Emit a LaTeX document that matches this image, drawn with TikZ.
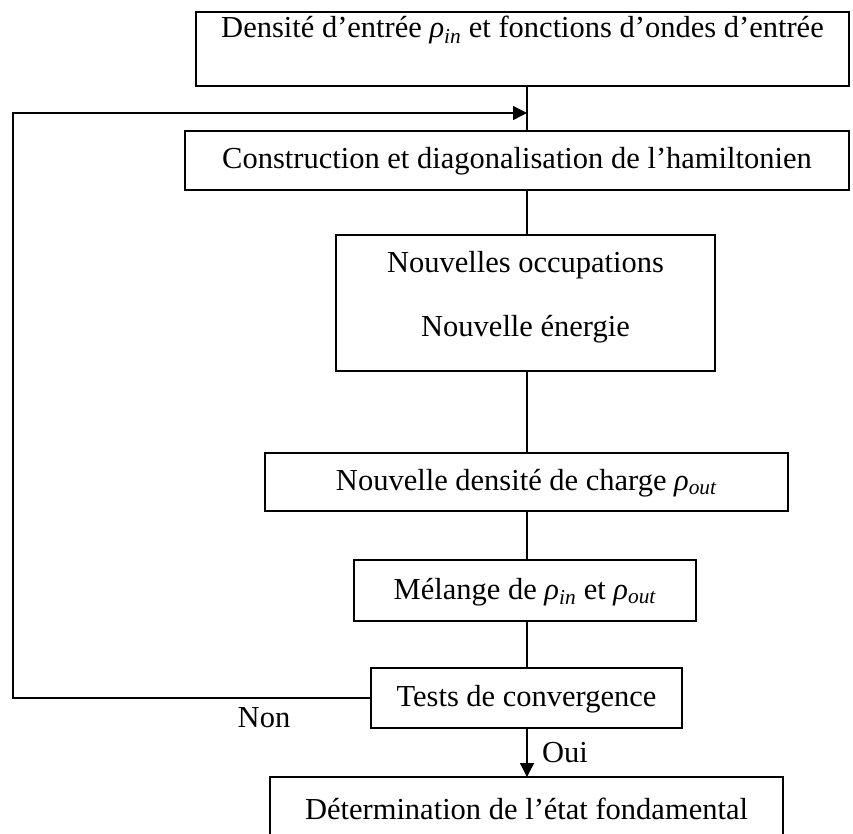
\documentclass[tikz,border=0pt]{standalone}
\usepackage{fontspec}
\setmainfont{Liberation Serif}
\usetikzlibrary{arrows.meta}
\newcommand{\rhoin}{\textit{ρ}\textsubscript{\textit{in}}}
\newcommand{\rhoout}{\textit{ρ}\textsubscript{\textit{out}}}
\begin{document}
\begin{tikzpicture}[x=1pt,y=-1pt,
  box/.style={draw, line width=1.5pt, inner sep=0pt, outer sep=0pt},
  txt/.style={inner sep=0pt, font=\fontsize{30.5}{36}\selectfont},
  conn/.style={line width=1.3pt},
  tip/.style={-{Triangle[length=14pt,width=14pt]}}]
\useasboundingbox (0,0) rectangle (853,833);
\clip (0,0) rectangle (853,833);
\coordinate (spine) at (527,0);
\node[box, minimum width=653pt, minimum height=74pt] (b1) at (522.5,49) {};
\node[box, minimum width=664pt, minimum height=59pt] (b2) at (517,160.5) {};
\node[box, minimum width=379pt, minimum height=136pt] (b3) at (525.5,303) {};
\node[box, minimum width=523pt, minimum height=58pt] (b4) at (526.5,482) {};
\node[box, minimum width=342pt, minimum height=61pt] (b5) at (525,590.5) {};
\node[box, minimum width=311pt, minimum height=60pt] (b6) at (526.5,698) {};
\node[box, minimum width=513pt, minimum height=68pt] (b7) at (526.5,811) {};
\node[txt] (t1) at (522.5,30) {Densité d’entrée \rhoin{} et fonctions d’ondes d’entrée};
\node[txt] (t2) at (517,161) {Construction et diagonalisation de l’hamiltonien};
\node[txt] (t3a) at (525.5,265) {Nouvelles occupations};
\node[txt] (t3b) at (525.5,329) {Nouvelle énergie};
\node[txt] (t4) at (526.5,483) {Nouvelle densité de charge \rhoout};
\node[txt] (t5) at (525,592) {Mélange de \rhoin{} et \rhoout};
\node[txt] (t6) at (526.5,699) {Tests de convergence};
\node[txt] (t7) at (526.5,809) {Détermination de l’état fondamental};
\node[txt] (non) at (264,718) {Non};
\node[txt, anchor=west] (oui) at (542,753) {Oui};
\coordinate (loopL) at (13,113);
\draw[conn] (b1.south -| spine) -- (b2.north -| spine);
\draw[conn] (b2.south -| spine) -- (b3.north -| spine);
\draw[conn] (b3.south -| spine) -- (b4.north -| spine);
\draw[conn] (b4.south -| spine) -- (b5.north -| spine);
\draw[conn] (b5.south -| spine) -- (b6.north -| spine);
\draw[conn, tip] (b6.south -| spine) -- (b7.north -| spine);
\draw[conn, tip] (b6.west) -- (b6.west -| loopL) -- (loopL) -- (loopL -| spine);
\end{tikzpicture}
\end{document}
